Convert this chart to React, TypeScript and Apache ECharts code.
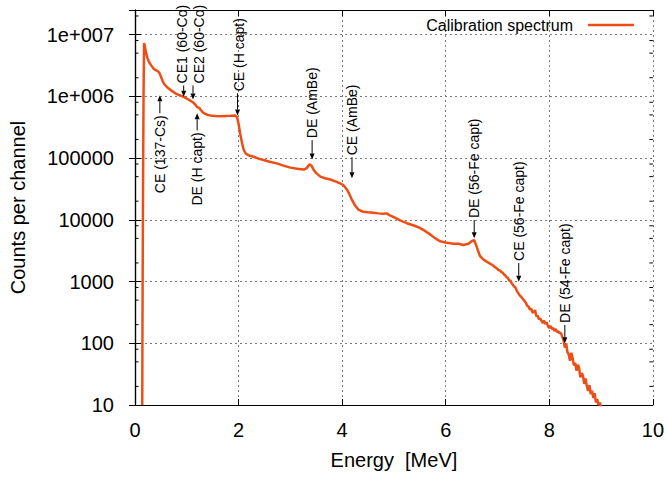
import React, { useEffect, useRef } from 'react';
import * as echarts from 'echarts';

// ---- Spectrum data ----
const energy = [
  0.14, 0.145, 0.155, 0.165, 0.175, 0.19, 0.21, 0.24, 0.27, 0.31, 0.36, 0.40, 0.44, 0.47, 0.50, 0.53, 0.56, 0.62,
  0.69, 0.78, 0.86, 0.94, 1.02, 1.11, 1.16, 1.20, 1.24, 1.27, 1.32, 1.40, 1.46, 1.55, 1.65, 1.75, 1.85, 1.93,
  1.97, 2.00, 2.03, 2.07, 2.10, 2.14, 2.20, 2.29, 2.40, 2.50, 2.60, 2.74, 2.85, 3.00, 3.13, 3.26, 3.31, 3.37,
  3.41, 3.45, 3.50, 3.58, 3.67, 3.77, 3.87, 3.96, 4.03, 4.09, 4.14, 4.19, 4.25, 4.32, 4.40, 4.50, 4.60, 4.70,
  4.80, 4.86, 4.92, 5.00, 5.12, 5.25, 5.40, 5.50, 5.60, 5.70, 5.80, 5.89, 6.00, 6.15, 6.25, 6.34, 6.44, 6.50,
  6.55, 6.60, 6.66, 6.72, 6.79, 6.90,
  7.000, 7.025, 7.050, 7.075, 7.100, 7.125, 7.150, 7.175, 7.200, 7.225, 7.250, 7.275, 7.300, 7.325, 7.350,
  7.375, 7.400, 7.425, 7.450, 7.475, 7.500, 7.525, 7.550, 7.575, 7.600, 7.625, 7.650, 7.675, 7.700, 7.725,
  7.750, 7.775, 7.800, 7.825, 7.850, 7.875, 7.900, 7.925, 7.950, 7.975, 8.000, 8.025, 8.050, 8.075, 8.100,
  8.125, 8.150, 8.175, 8.200, 8.225, 8.250, 8.275, 8.300, 8.325, 8.350, 8.375, 8.400, 8.425, 8.450, 8.475,
  8.500, 8.525, 8.550, 8.575, 8.600, 8.625, 8.650, 8.675, 8.700, 8.725, 8.750, 8.775, 8.800, 8.825, 8.850,
  8.875, 8.900, 8.925, 8.950, 8.975, 9.000,
];
const counts = [
  10, 300, 30000, 1.0e6, 7.3e6, 6.5e6, 5.2e6, 4.2e6, 3.6e6, 3.2e6, 2.8e6, 2.65e6, 2.55e6, 2.4e6, 2.1e6, 1.8e6, 1.6e6, 1.4e6,
  1.26e6, 1.12e6, 1.04e6, 9.8e5, 9.0e5, 8.1e5, 7.4e5, 6.7e5, 6.5e5, 6.0e5, 5.4e5, 5.0e5, 4.9e5, 4.8e5, 4.75e5, 4.8e5, 4.85e5, 4.9e5,
  4.6e5, 3.6e5, 2.5e5, 1.7e5, 1.35e5, 1.18e5, 1.1e5, 1.05e5, 9.7e4, 9.2e4, 8.7e4, 8.2e4, 7.6e4, 7.0e4, 6.7e4, 6.5e4, 6.8e4, 7.9e4,
  7.5e4, 6.4e4, 5.7e4, 5.0e4, 4.7e4, 4.5e4, 4.2e4, 3.9e4, 3.6e4, 3.1e4, 2.6e4, 2.1e4, 1.7e4, 1.45e4, 1.35e4, 1.32e4, 1.3e4, 1.27e4,
  1.25e4, 1.27e4, 1.18e4, 1.1e4, 9.8e3, 8.8e3, 8.0e3, 7.4e3, 6.6e3, 5.8e3, 5.0e3, 4.5e3, 4.3e3, 4.1e3, 4.1e3, 3.9e3, 4.1e3, 4.5e3,
  4.7e3, 3.6e3, 2.6e3, 2.3e3, 2.1e3, 1.85e3,
  1600, 1520, 1510, 1420, 1390, 1300, 1250, 1170, 1150, 1030, 1040, 930, 880, 820, 790,
  700, 650, 600, 575, 540, 510, 480, 450, 400, 395, 350, 365, 315, 320, 345,
  275, 280, 245, 255, 230, 212, 232, 205, 218, 188, 178, 190, 170, 176, 158,
  170, 152, 155, 146, 146, 128, 112, 85, 100, 72, 66, 52, 70, 58, 44,
  48, 36, 45, 40, 28, 33, 30, 22, 27, 20, 17, 21, 15, 17, 13,
  15.5, 11, 12.5, 10, 11, 9,
];

// ---- Axes ----
const xTicks = [0, 2, 4, 6, 8, 10];
const yMin = 10;
const yMax = 2.5e7;
const yTickValues = [10, 100, 1000, 10000, 100000, 1000000, 10000000];
const yTickLabels = ['10', '100', '1000', '10000', '100000', '1e+006', '1e+007'];
const yMinorTicks = [
  20, 50, 80, 200, 500, 800, 2000, 5000, 8000, 20000, 50000, 80000,
  200000, 500000, 800000, 2000000, 5000000, 8000000, 20000000,
];

// ---- Annotations ----
const annLabels = [
  'CE (137-Cs)', 'CE1 (60-Co)', 'CE2 (60-Co)', 'DE (H capt)', 'CE (H capt)',
  'DE (AmBe)', 'CE (AmBe)', 'DE (56-Fe capt)', 'CE (56-Fe capt)', 'DE (54-Fe capt)',
];
const annEnergy = [0.48, 0.94, 1.12, 1.20, 1.98, 3.42, 4.19, 6.55, 7.41, 8.30];
const annTip = [1.04e6, 9.8e5, 8.9e5, 5.3e5, 4.9e5, 9.5e4, 4.7e4, 5.0e3, 990, 100];
const annTail = [5.3e5, 1.5e6, 1.5e6, 2.8e5, 1.12e6, 1.95e5, 1.03e5, 9.9e3, 2.0e3, 198];

// small horizontal nudges of the rotated label texts (layout only)
const LABEL_DX = [0, -2, 6, 0, 1, 0, 0, 0, 0, 0];

const FONT = '"Liberation Sans", Arial, Helvetica, sans-serif';
const LINE_COLOR = '#ee4e16';

export default function App() {
  const ref = useRef<HTMLDivElement>(null);

  useEffect(() => {
    if (!ref.current) return;
    const chart = echarts.init(ref.current, undefined, { renderer: 'svg' });

    const gridLine = { show: true, lineStyle: { color: '#7a7a7a', type: [2, 3] as any, width: 1 } };

    const option: any = {
      animation: false,
      backgroundColor: '#ffffff',
      textStyle: { fontFamily: FONT },
      grid: { left: 134, right: 14, top: 10, bottom: 72, containLabel: false },
      legend: {
        top: 17,
        right: 33,
        padding: 0,
        align: 'right',
        itemWidth: 46,
        itemHeight: 2.5,
        textStyle: { fontFamily: FONT, fontSize: 16, color: '#000', padding: [0, 10, 0, 0] },
        data: [{ name: 'Calibration spectrum', icon: 'rect' }],
      },
      xAxis: [
        {
          type: 'value',
          min: xTicks[0],
          max: xTicks[xTicks.length - 1],
          interval: xTicks[1] - xTicks[0],
          name: 'Energy  [MeV]',
          nameLocation: 'middle',
          nameGap: 45,
          nameTextStyle: { fontFamily: FONT, fontSize: 20, color: '#000' },
          axisLine: { show: true, lineStyle: { color: '#000', width: 1.2 } },
          axisTick: { show: true, inside: true, length: 6, lineStyle: { color: '#000' } },
          axisLabel: { fontFamily: FONT, fontSize: 20, color: '#000', margin: 15 },
          splitLine: gridLine,
        },
        {
          type: 'value',
          position: 'top',
          min: xTicks[0],
          max: xTicks[xTicks.length - 1],
          interval: xTicks[1] - xTicks[0],
          axisLine: { show: true, lineStyle: { color: '#000', width: 1.2 } },
          axisTick: { show: true, inside: true, length: 6, lineStyle: { color: '#000' } },
          axisLabel: { show: false },
          splitLine: { show: false },
        },
      ],
      yAxis: [
        {
          type: 'log',
          logBase: 10,
          min: yMin,
          max: yMax,
          splitNumber: 7,
          name: 'Counts per channel',
          nameLocation: 'middle',
          nameGap: 107,
          nameTextStyle: { fontFamily: FONT, fontSize: 20, color: '#000' },
          axisLine: { show: true, lineStyle: { color: '#000', width: 1.2 } },
          axisTick: { show: true, inside: true, length: 6, lineStyle: { color: '#000' } },
          axisLabel: {
            fontFamily: FONT,
            fontSize: 20,
            color: '#000',
            margin: 21,
            showMaxLabel: false,
            formatter: (v: number) => {
              const idx = yTickValues.findIndex((t) => Math.abs(Math.log10(t) - Math.log10(v)) < 1e-6);
              return idx >= 0 ? yTickLabels[idx] : '';
            },
          },
          splitLine: gridLine,
        },
        {
          type: 'log',
          logBase: 10,
          position: 'right',
          min: yMin,
          max: yMax,
          splitNumber: 7,
          axisLine: { show: true, lineStyle: { color: '#000', width: 1.2 } },
          axisTick: { show: true, inside: true, length: 6, lineStyle: { color: '#000' } },
          axisLabel: { show: false },
          splitLine: { show: false },
        },
      ],
      series: [
        {
          name: 'Calibration spectrum',
          type: 'line',
          xAxisIndex: 0,
          yAxisIndex: 0,
          symbol: 'none',
          showSymbol: false,
          clip: true,
          lineStyle: { color: LINE_COLOR, width: 2.5 },
          itemStyle: { color: LINE_COLOR },
          data: energy.map((e, i) => [e, counts[i]]),
          z: 3,
        },
        {
          name: 'minorTicks',
          type: 'custom',
          xAxisIndex: 0,
          yAxisIndex: 0,
          silent: true,
          encode: { x: 0, y: 1 },
          data: yMinorTicks.map((v) => [xTicks[0], v]),
          renderItem: (params: any, api: any) => {
            const v = api.value(1);
            const l = api.coord([xTicks[0], v]);
            const r = api.coord([xTicks[xTicks.length - 1], v]);
            return {
              type: 'group',
              children: [
                { type: 'line', shape: { x1: l[0], y1: l[1], x2: l[0] + 3.5, y2: l[1] }, style: { stroke: '#000', lineWidth: 1 } },
                { type: 'line', shape: { x1: r[0] - 3.5, y1: r[1], x2: r[0], y2: r[1] }, style: { stroke: '#000', lineWidth: 1 } },
              ],
            };
          },
          z: 4,
        },
        {
          name: 'annotations',
          type: 'custom',
          xAxisIndex: 0,
          yAxisIndex: 0,
          silent: true,
          clip: false,
          encode: { x: 0, y: 1 },
          data: annEnergy.map((e, i) => [e, annTip[i], annTail[i]]),
          renderItem: (params: any, api: any) => {
            const e = api.value(0);
            const tip = api.coord([e, api.value(1)]);
            const tail = api.coord([e, api.value(2)]);
            const up = tail[1] > tip[1];
            const dir = up ? -1 : 1; // pixel direction from tail to tip
            const head = 6;
            const hw = 2.5;
            const x = tip[0];
            return {
              type: 'group',
              children: [
                {
                  type: 'line',
                  shape: { x1: x, y1: tail[1], x2: x, y2: tip[1] - dir * head },
                  style: { stroke: '#000', lineWidth: 1 },
                },
                {
                  type: 'polygon',
                  shape: { points: [[x, tip[1]], [x - hw, tip[1] - dir * head], [x + hw, tip[1] - dir * head]] },
                  style: { fill: '#000' },
                },
                {
                  type: 'text',
                  x: x + LABEL_DX[params.dataIndex],
                  y: tail[1] - dir * 2,
                  rotation: Math.PI / 2,
                  style: {
                    text: annLabels[params.dataIndex],
                    fill: '#000',
                    fontSize: 14,
                    fontFamily: FONT,
                    align: up ? 'right' : 'left',
                    verticalAlign: 'middle',
                  },
                },
              ],
            };
          },
          z: 5,
        },
      ],
    };

    chart.setOption(option);
    return () => chart.dispose();
  }, []);

  return (
    <div
      ref={ref}
      style={{ position: 'fixed', left: 0, top: 0, width: 667, height: 477, background: '#fff' }}
    />
  );
}
